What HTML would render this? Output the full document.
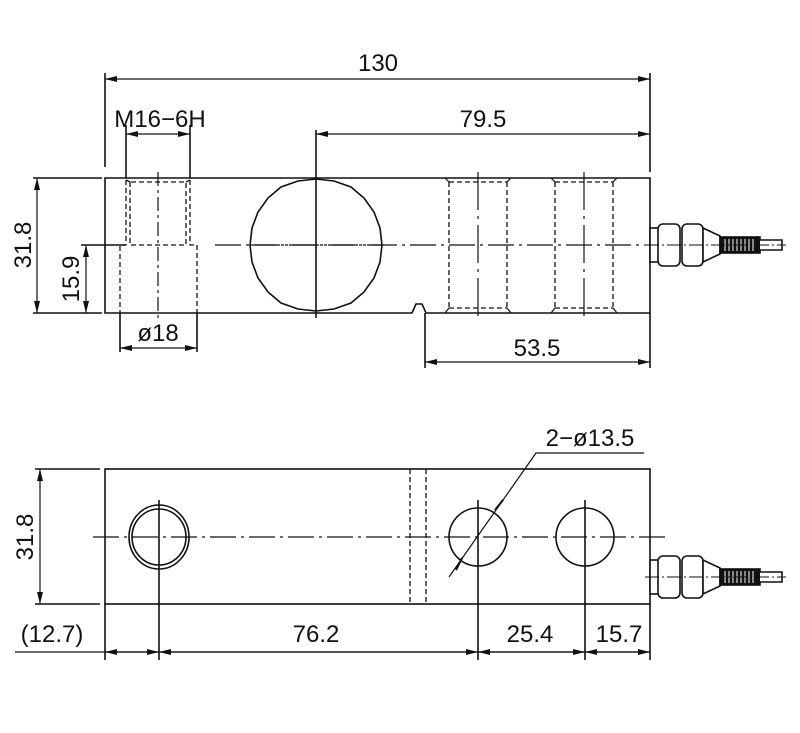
<!DOCTYPE html>
<html><head><meta charset="utf-8"><style>
html,body{margin:0;padding:0;background:#fff}
svg text{font-family:"Liberation Sans",sans-serif;font-size:24px;fill:#111}
</style></head><body>
<svg width="800" height="728" viewBox="0 0 800 728" xmlns="http://www.w3.org/2000/svg">
<defs>
<marker id="a" viewBox="0 0 12 6" refX="12" refY="3" markerWidth="12" markerHeight="6" orient="auto-start-reverse" markerUnits="userSpaceOnUse"><path d="M0,0 L12,3 L0,6z" fill="#111"/></marker>
<g id="conn" stroke="#111" stroke-width="1.6" fill="#fff">
<rect x="650" y="-17" width="9" height="34"/>
<rect x="658" y="-21" width="22" height="42" rx="5"/>
<rect x="682" y="-21" width="21" height="42" rx="5"/>
<path d="M703,-17 L720,-9 L720,9 L703,17z"/>
<rect x="720" y="-8" width="40" height="16" fill="#111"/>
<g stroke="#fff" stroke-width="1"><path d="M725,-6v12M729,-6v12M733,-6v12M737,-6v12M741,-6v12M745,-6v12M749,-6v12M753,-6v12"/></g>
<path d="M760,-5 H782 V5 H760" />
<path d="M645,0 H786" stroke-dasharray="14 3 2 3" stroke-width="1"/>
</g>
</defs>
<g stroke="#111" stroke-width="1.6" fill="none">
<path d="M105,178 H650 V313 H426 L422,304 H416 L412,313 H105 Z"/>
<path d="M215,245 H645" stroke-dasharray="26 5 3 5" stroke-width="1.2"/>
<g stroke-dasharray="5 3" stroke-width="1.3">
<path d="M126,180 V245 H120 V313 M190,180 V245 H197 V313 M130,182 V245 H186 V182 H130 M126,180 L130,182 M190,180 L186,182"/>
<path d="M449,182 V308 M507,182 V308 M449,182 H507 M449,308 H507 M555,182 V308 M613,182 V308 M555,182 H613 M555,308 H613"/>
</g>
<path d="M445,178 L449,182 M511,178 L507,182 M445,313 L449,308 M511,313 L507,308 M551,178 L555,182 M617,178 L613,182 M551,313 L555,308 M617,313 L613,308" stroke-width="1.2"/>
<path d="M158,172 V322" stroke-dasharray="14 4 3 4" stroke-width="1.2"/>
<path d="M478,172 V318 M584,172 V318" stroke-dasharray="38 6 3 6" stroke-width="1.2"/>
<polygon points="382,245 380,262 374,278 364,292 351,303 334,309 316,311 298,309 281,303 268,292 258,278 252,262 250,245 252,228 258,212 268,198 281,187 298,181 316,179 334,181 351,187 364,198 374,212 380,228"/>
<path d="M316,130 V318" />
<path d="M250,245 H382" stroke-dasharray="26 5 3 5" stroke-width="1.2"/>
<path d="M105,73 V167 M650,73 V172"/>
<path d="M105,79 H650" stroke-width="1.2" marker-start="url(#a)" marker-end="url(#a)"/>
<path d="M126,125 V178 M190,125 V178"/>
<path d="M126,134 H190" stroke-width="1.2" marker-start="url(#a)" marker-end="url(#a)"/>
<path d="M316,134 H650" stroke-width="1.2" marker-start="url(#a)" marker-end="url(#a)"/>
<path d="M33,178 H102 M33,313 H102 M81,245 H125"/>
<path d="M37,178 V313" stroke-width="1.2" marker-start="url(#a)" marker-end="url(#a)"/>
<path d="M86,245 V313" stroke-width="1.2" marker-start="url(#a)" marker-end="url(#a)"/>
<path d="M120,313 V352 M197,313 V352"/>
<path d="M120,348 H197" stroke-width="1.2" marker-start="url(#a)" marker-end="url(#a)"/>
<path d="M425,313 V368 M650,313 V368"/>
<path d="M425,362 H650" stroke-width="1.2" marker-start="url(#a)" marker-end="url(#a)"/>

<rect x="105" y="469" width="545" height="135"/>
<path d="M410,469 V604 M426,469 V604" stroke-dasharray="5 3" stroke-width="1.3"/>
<path d="M93,537 H667" stroke-dasharray="26 5 3 5" stroke-width="1.2"/>
<ellipse cx="159" cy="537" rx="30" ry="32"/>
<ellipse cx="159" cy="537" rx="27" ry="28"/>
<ellipse cx="478" cy="537" rx="29" ry="29"/>
<ellipse cx="585" cy="537" rx="29" ry="29"/>
<path d="M159,500 V660 M478,500 V660 M585,500 V660"/>
<path d="M449,577 L536,453 H644" stroke-width="1.2"/>
<path d="M462,558 L456,570 M503,500 L495,510" stroke-width="2"/>
<path d="M35,469 H100 M35,604 H100"/>
<path d="M40,469 V604" stroke-width="1.2" marker-start="url(#a)" marker-end="url(#a)"/>
<path d="M105,604 V660 M650,604 V660"/>
<path d="M15,652 H650" stroke-width="1.2"/>
<path d="M105,652 H159" stroke-width="1.2" marker-start="url(#a)" marker-end="url(#a)"/>
<path d="M159,652 H478" stroke-width="1.2" marker-start="url(#a)" marker-end="url(#a)"/>
<path d="M478,652 H585" stroke-width="1.2" marker-start="url(#a)" marker-end="url(#a)"/>
<path d="M585,652 H650" stroke-width="1.2" marker-start="url(#a)" marker-end="url(#a)"/>
</g>
<use href="#conn" transform="translate(0,245)"/>
<use href="#conn" transform="translate(0,577)"/>
<text x="378" y="71" text-anchor="middle">130</text>
<text x="160" y="127" text-anchor="middle">M16−6H</text>
<text x="483" y="127" text-anchor="middle">79.5</text>
<text x="158" y="341" text-anchor="middle">ø18</text>
<text x="537" y="356" text-anchor="middle">53.5</text>
<text transform="translate(31,245) rotate(-90)" text-anchor="middle">31.8</text>
<text transform="translate(79,279) rotate(-90)" text-anchor="middle">15.9</text>
<text x="590" y="446" text-anchor="middle">2−ø13.5</text>
<text transform="translate(33,537) rotate(-90)" text-anchor="middle">31.8</text>
<text x="52" y="642" text-anchor="middle">(12.7)</text>
<text x="316" y="642" text-anchor="middle">76.2</text>
<text x="530" y="642" text-anchor="middle">25.4</text>
<text x="619" y="642" text-anchor="middle">15.7</text>
</svg>
</body></html>
